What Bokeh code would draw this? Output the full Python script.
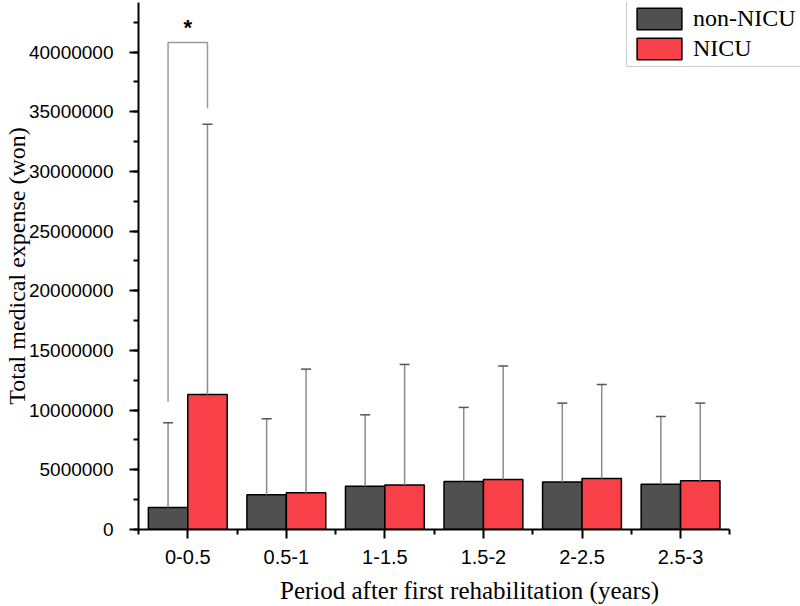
from bokeh.plotting import figure
from bokeh.models import (Range1d, FixedTicker, SingleIntervalTicker, NumeralTickFormatter,
                          ColumnDataSource, Whisker, TeeHead, Legend, LegendItem)
from bokeh.transform import dodge
from bokeh.embed import file_html
from bokeh.resources import INLINE
from bokeh.core.properties import value

# ---- data ----
periods = ["0-0.5", "0.5-1", "1-1.5", "1.5-2", "2-2.5", "2.5-3"]
non_nicu_mean = [1850000, 2910000, 3630000, 4020000, 3970000, 3800000]
non_nicu_upper = [8950000, 9280000, 9610000, 10230000, 10590000, 9470000]
nicu_mean = [11320000, 3070000, 3720000, 4190000, 4270000, 4080000]
nicu_upper = [33950000, 13440000, 13830000, 13700000, 12150000, 10590000]

# significance bracket between the two 0-0.5 bars
bracket_left_bottom = 10700000
bracket_right_bottom = 35300000
bracket_top = 40800000
star_y = 42100000

pos = list(range(len(periods)))

src = ColumnDataSource(dict(x=pos, nm=non_nicu_mean, nu=non_nicu_upper,
                            im=nicu_mean, iu=nicu_upper))

p = figure(width=800, height=606, output_backend="svg", toolbar_location=None,
           x_range=Range1d(-0.5, 6.217), y_range=Range1d(0, 44160000),
           min_border_left=135, min_border_right=0, min_border_top=2, min_border_bottom=77)
p.outline_line_color = None
p.xgrid.visible = False
p.ygrid.visible = False
p.background_fill_color = "white"
p.border_fill_color = "white"

bw = 0.4
NON_COL = "#505050"
NICU_COL = "#F84048"

r1 = p.vbar(x=dodge("x", -0.2), top="nm", width=bw, source=src, fill_color=NON_COL,
            line_color="black", line_width=1.5)
r2 = p.vbar(x=dodge("x", 0.2), top="im", width=bw, source=src, fill_color=NICU_COL,
            line_color="black", line_width=1.5)

for off, lo, hi in [(-0.2, "nm", "nu"), (0.2, "im", "iu")]:
    w = Whisker(base=dodge("x", off), lower=lo, upper=hi, source=src, dimension="height",
                line_color="#8c8c8c", line_width=1.5,
                upper_head=TeeHead(size=10, line_color="#555555", line_width=1.5),
                lower_head=None, level="overlay")
    p.add_layout(w)

# significance bracket
p.line(x=[-0.2, -0.2, 0.2, 0.2],
       y=[bracket_left_bottom, bracket_top, bracket_top, bracket_right_bottom],
       line_color="#9a9a9a", line_width=1.5)
p.text(x=[0], y=[star_y], text=["*"], text_align="center", text_baseline="middle",
       text_font=value("Liberation Sans"), text_font_size="22px",
       text_font_style="bold", text_color="black")

# axes
xa = p.xaxis[0]
xa.ticker = FixedTicker(ticks=pos, minor_ticks=[-0.5, 0.5, 1.5, 2.5, 3.5, 4.5, 5.5])
xa.major_label_overrides = {i: s for i, s in enumerate(periods)}
xa.bounds = (-0.5, 5.5)
ya = p.yaxis[0]
ya.ticker = SingleIntervalTicker(interval=5000000, num_minor_ticks=2)
ya.formatter = NumeralTickFormatter(format="0")

for ax in (xa, ya):
    ax.axis_line_color = "black"
    ax.axis_line_width = 2
    ax.major_tick_line_color = "black"
    ax.major_tick_line_width = 2
    ax.major_tick_out = 9
    ax.major_tick_in = 0
    ax.minor_tick_line_color = "black"
    ax.minor_tick_line_width = 2
    ax.minor_tick_out = 5
    ax.minor_tick_in = 0
    ax.major_label_text_font = "Liberation Sans"
    ax.major_label_text_color = "black"
    ax.axis_label_text_font = "Liberation Serif"
    ax.axis_label_text_font_style = "normal"
    ax.axis_label_text_color = "black"

xa.major_label_text_font_size = "20px"
ya.major_label_text_font_size = "19px"
xa.axis_label_text_font_size = "25px"
ya.axis_label_text_font_size = "24px"
xa.axis_label = "Period after first rehabilitation (years)"
ya.axis_label = "Total medical expense (won)"
xa.major_label_standoff = 11
ya.major_label_standoff = 16
xa.axis_label_standoff = 10
ya.axis_label_standoff = -4

legend = Legend(items=[LegendItem(label="non-NICU", renderers=[r1]),
                       LegendItem(label="NICU", renderers=[r2])],
                location=(488, 462), orientation="vertical",
                padding=4, spacing=3, margin=0,
                glyph_width=56, glyph_height=27, label_standoff=6,
                label_text_font="Liberation Serif", label_text_font_size="24px",
                label_text_color="black",
                border_line_color="#999999", border_line_width=1.5,
                background_fill_color="white", background_fill_alpha=1.0)
p.add_layout(legend, "center")

open("out.html", "w").write(file_html(p, INLINE))
